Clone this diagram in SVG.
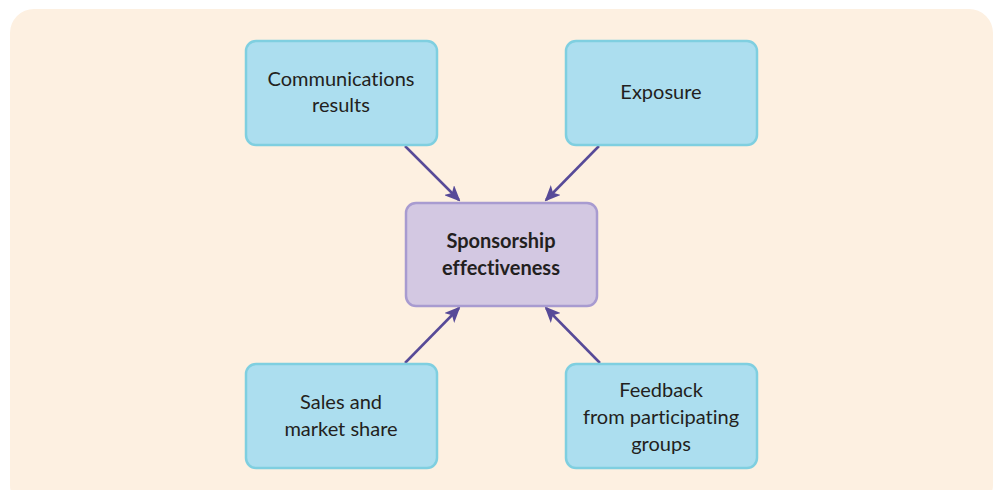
<svg xmlns="http://www.w3.org/2000/svg" width="995" height="490" viewBox="0 0 995 490">
<style>
.box{fill:#acdeef;stroke:#7fcfe0;stroke-width:2.5}
.ctr{fill:#d3c8e2;stroke:#a89bd0;stroke-width:2.5}
text{font-family:Lato,"Open Sans",sans-serif;font-size:20px;fill:#231f20;text-anchor:middle;font-variant-ligatures:none}
.b{font-weight:bold}
.c{stroke:#574a98;stroke-width:2.5;fill:none;marker-end:url(#ah)}
</style>
<defs>
<marker id="ah" viewBox="0 0 16 14" refX="14" refY="7" markerWidth="16" markerHeight="14" markerUnits="userSpaceOnUse" orient="auto">
<path d="M0,0 L16,7 L0,14 L4,7 Z" fill="#574a98"/>
</marker>
</defs>
<rect x="10" y="9" width="983" height="500" rx="24" fill="#fdf0e1"/>
<g id="connectors">
<line class="c" x1="405" y1="146" x2="459" y2="200"/>
<line class="c" x1="599" y1="146" x2="546" y2="200"/>
<line class="c" x1="405" y1="363" x2="459" y2="308"/>
<line class="c" x1="600" y1="363" x2="546" y2="308"/>
</g>
<g id="comm">
<rect class="box" x="246" y="41" width="191" height="104" rx="10"/>
<text x="341" y="86">Communications</text>
<text x="341" y="112">results</text>
</g>
<g id="exposure">
<rect class="box" x="566" y="41" width="191" height="104" rx="10"/>
<text x="661" y="99">Exposure</text>
</g>
<g id="center">
<rect class="ctr" x="406" y="203" width="191" height="103" rx="10"/>
<text class="b" x="501" y="248">Sponsorship</text>
<text class="b" x="501" y="275">effectiveness</text>
</g>
<g id="sales">
<rect class="box" x="246" y="364" width="191" height="104" rx="10"/>
<text x="341" y="409">Sales and</text>
<text x="341" y="436">market share</text>
</g>
<g id="feedback">
<rect class="box" x="566" y="364" width="191" height="104" rx="10"/>
<text x="661" y="397">Feedback</text>
<text x="661" y="424">from participating</text>
<text x="661" y="451">groups</text>
</g>
</svg>
